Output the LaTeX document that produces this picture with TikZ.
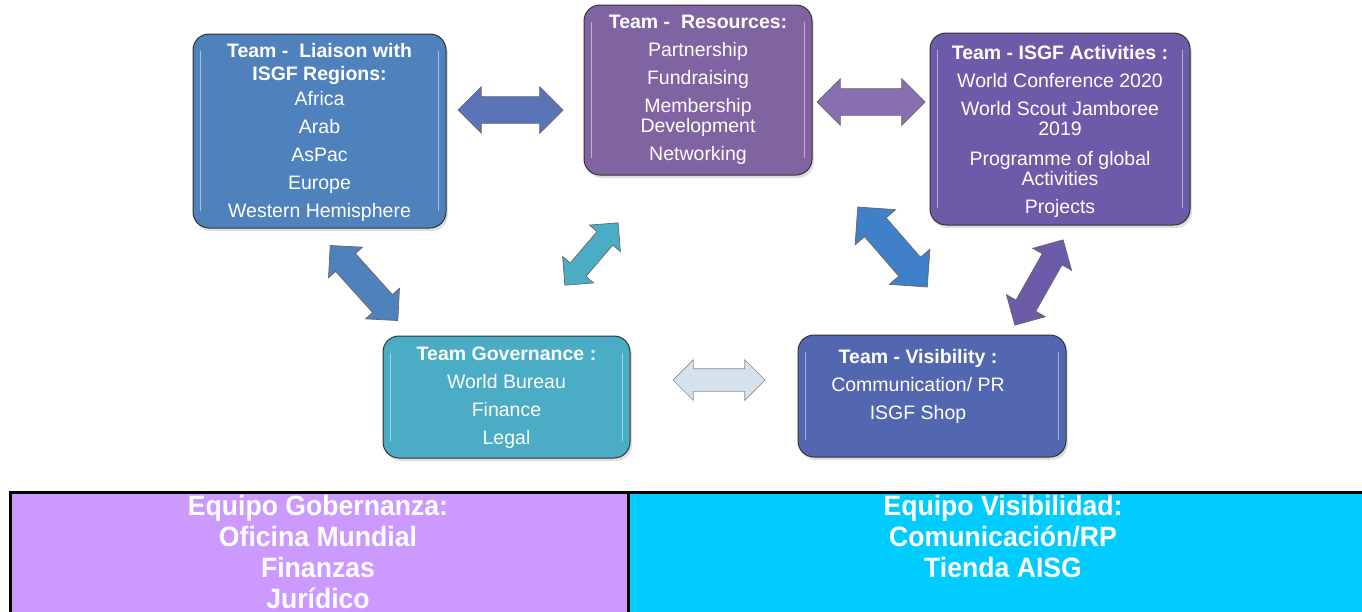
\documentclass[tikz,border=0pt]{standalone}
\usepackage{fontspec}
\setmainfont{Liberation Sans}
\newfontfamily\cellfont[FakeStretch=0.95]{Liberation Sans}
\usetikzlibrary{shapes.arrows,shadows}

\definecolor{liaisonfill}{HTML}{4F81BD}
\definecolor{resourcesfill}{HTML}{8064A2}
\definecolor{activitiesfill}{HTML}{6B5BA8}
\definecolor{governancefill}{HTML}{4BACC6}
\definecolor{visibilityfill}{HTML}{5366B0}
\definecolor{linkblue}{HTML}{5B74B8}
\definecolor{linkpurple}{HTML}{8A6FB0}
\definecolor{linkdeep}{HTML}{3F80C8}
\definecolor{linkpale}{HTML}{D6E1EE}
\definecolor{govcellfill}{HTML}{CC99FF}
\definecolor{viscellfill}{HTML}{00CCFF}

\tikzset{
    teambox/.style n args={2}{draw=black!80, line width=1pt, rounded corners=16pt,
        minimum width=#1, minimum height=#2, inner sep=0pt,
        drop shadow={opacity=.25, shadow xshift=2pt, shadow yshift=-3pt}},
    teamtext/.style={text=white, align=center, anchor=north, inner sep=0pt,
        font=\fontsize{19.5}{20}\selectfont},
    gloss/.style={white, opacity=.5, line width=1.5pt, line cap=round},
    teamlink/.style n args={3}{double arrow, draw=black!60, line width=.7pt,
        minimum height=#1, inner xsep=0pt, inner ysep=#3,
        double arrow head extend=#2, double arrow tip angle=90},
    tablecell/.style={draw=black, line width=2.5pt, anchor=north west, inner sep=0pt},
    celltext/.style={text=white, align=center, anchor=north, inner sep=0pt,
        font=\cellfont\bfseries\fontsize{28}{31}\selectfont},
}

\begin{document}
\begin{tikzpicture}[x=1pt, y=-1pt]
    \useasboundingbox (0,0) rectangle (1362,611);

    \node[teambox={253}{194}, fill=liaisonfill] (liaison) at (319.5,131) {};
    \node[teambox={228}{170}, fill=resourcesfill] (resources) at (698,90) {};
    \node[teambox={260}{192}, fill=activitiesfill] (activities) at (1060,129) {};
    \node[teambox={247}{122}, fill=governancefill] (governance) at (506.5,397) {};
    \node[teambox={268}{122}, fill=visibilityfill] (visibility) at (932,396) {};

    \foreach \b in {liaison,resources,activities,governance,visibility}{
        \draw[gloss] ([xshift=8pt,yshift=-18pt]\b.north west) -- ([xshift=8pt,yshift=18pt]\b.south west);
        \draw[gloss] ([xshift=-8pt,yshift=-18pt]\b.north east) -- ([xshift=-8pt,yshift=18pt]\b.south east);
    }

    \node[teamtext] (liaisontext) at (319.5,43) {\textbf{Team -\ \ Liaison with}\\[3pt]
        \textbf{ISGF Regions:}\\[5pt] Africa\\[8pt] Arab\\[8pt] AsPac\\[8pt] Europe\\[8pt] Western Hemisphere};
    \node[teamtext] (resourcestext) at (698,15) {\textbf{Team -\ \ Resources:}\\[8pt]
        Partnership\\[8pt] Fundraising\\[8pt] Membership\\ Development\\[8pt] Networking};
    \node[teamtext] (activitiestext) at (1060,45) {\textbf{Team - ISGF Activities :}\\[8pt]
        World Conference 2020\\[8pt] World Scout Jamboree\\ 2019\\[10pt]
        Programme of global\\ Activities\\[8pt] Projects};
    \node[teamtext] (governancetext) at (506.5,347) {\textbf{Team Governance :}\\[8pt]
        World Bureau\\[8pt] Finance\\[8pt] Legal};
    \node[teamtext] (visibilitytext) at (918,349) {\textbf{Team - Visibility :}\\[8pt]
        Communication/ PR\\[8pt] ISGF Shop};

    \node[teamlink={105}{10pt}{13pt}, fill=linkblue] (liaisonresources) at (510.5,110) {};
    \node[teamlink={108}{10pt}{13pt}, fill=linkpurple] (resourcesactivities) at (871,102) {};
    \node[teamlink={101}{9.5pt}{13pt}, fill=liaisonfill, rotate=-48] (liaisongovernance) at (364,283) {};
    \node[teamlink={82}{10pt}{10pt}, fill=governancefill, rotate=49.5] (resourcesgovernance) at (591.5,254) {};
    \node[teamlink={106}{12.5pt}{14pt}, fill=linkdeep, rotate=-49] (resourcesvisibility) at (892.5,247) {};
    \node[teamlink={98}{11pt}{11pt}, fill=activitiesfill, rotate=60.5] (activitiesvisibility) at (1039,282.5) {};
    \node[teamlink={92}{9pt}{11pt}, fill=linkpale, draw=black!45] (governancevisibility) at (719,380) {};

    \node[tablecell, fill=govcellfill, minimum width=618, minimum height=140] (govcell) at (9,491) {};
    \node[tablecell, fill=viscellfill, minimum width=760, minimum height=140] (viscell) at (627,491) {};
    \node[celltext] (govcelltext) at (318,495) {Equipo Gobernanza:\\ Oficina Mundial\\ Finanzas\\ Jurídico};
    \node[celltext] (viscelltext) at (1003,495) {Equipo Visibilidad:\\ Comunicación/RP\\ Tienda AISG};
\end{tikzpicture}
\end{document}
